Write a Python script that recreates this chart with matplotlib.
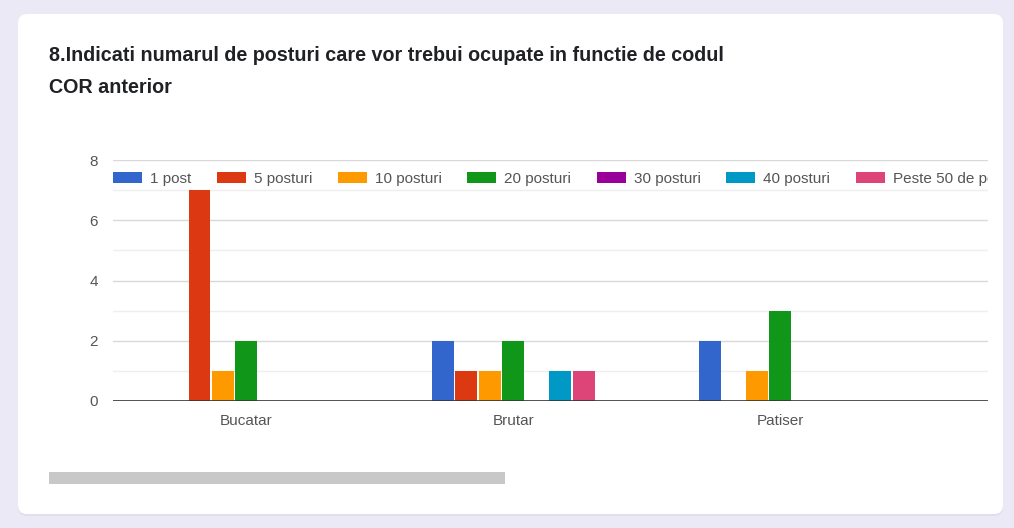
import matplotlib.pyplot as plt
import numpy as np
from matplotlib.patches import FancyBboxPatch, Rectangle, Patch
from matplotlib.transforms import IdentityTransform

# date
categories = ['Bucatar', 'Brutar', 'Patiser']
series_names = ['1 post', '5 posturi', '10 posturi', '20 posturi',
                '30 posturi', '40 posturi', 'Peste 50 de posturi']
post_1 = [0, 2, 2]
posturi_5 = [7, 1, 0]
posturi_10 = [1, 1, 1]
posturi_20 = [2, 2, 3]
posturi_30 = [0, 0, 0]
posturi_40 = [0, 1, 0]
peste_50 = [0, 1, 0]
series_values = [post_1, posturi_5, posturi_10, posturi_20, posturi_30, posturi_40, peste_50]

colors = ['#3366cc', '#dc3912', '#ff9900', '#109618', '#990099', '#0099c6', '#dd4477']

W, H = 1014, 528
plt.rcParams['font.family'] = ['Liberation Sans', 'DejaVu Sans']

fig = plt.figure(figsize=(W / 100, H / 100), dpi=100)
fig.patch.set_facecolor('#ece9f6')

# card (pixel coords)
px = IdentityTransform()
fig.add_artist(FancyBboxPatch((18, H - 516), 985, 502, boxstyle='round,pad=0,rounding_size=9',
                              transform=px, facecolor='#e2deef', edgecolor='none', zorder=-2))
fig.add_artist(FancyBboxPatch((18, H - 514), 985, 500, boxstyle='round,pad=0,rounding_size=9',
                              transform=px, facecolor='white', edgecolor='none', zorder=-1))

# titlu
title1 = '8.Indicati numarul de posturi care vor trebui ocupate in functie de codul'
title2 = 'COR anterior'
fig.text(49 / W, 1 - 61 / H, title1, fontsize=14.2, fontweight='bold', color='#202124', va='baseline')
fig.text(49 / W, 1 - 93 / H, title2, fontsize=14.2, fontweight='bold', color='#202124', va='baseline')

# grafic
ax = fig.add_axes([113 / W, (H - 401) / H, 875 / W, 241 / H])
ax.set_facecolor('none')
for s in ax.spines.values():
    s.set_visible(False)

for y in [1, 3, 5, 7]:
    ax.axhline(y, color='#eeeeee', lw=1, zorder=0)
for y in [2, 4, 6, 8]:
    ax.axhline(y, color='#d9d9d9', lw=1, zorder=0)

x = np.arange(len(categories))
slot = 0.088
bw = 0.082
for i, (vals, c) in enumerate(zip(series_values, colors)):
    ax.bar(x + (i - 3) * slot, vals, width=bw, color=c, zorder=2)

ax.axhline(0, color='#333333', lw=1.2, zorder=3)

ax.set_xlim(-0.5, 2.779)
ax.set_ylim(0, 8)
ax.set_yticks([0, 2, 4, 6, 8])
ax.set_xticks(x, categories)
ax.tick_params(axis='y', length=0, pad=11, labelsize=11, labelcolor='#555555')
ax.tick_params(axis='x', length=0, pad=9.5, labelsize=11, labelcolor='#555555')

handles = [Patch(facecolor=c, edgecolor='none') for c in colors]
leg = ax.legend(handles, series_names, loc='upper left', bbox_to_anchor=(0, 1 - 12 / 241),
                ncol=7, frameon=False, fontsize=11, borderpad=0, borderaxespad=0,
                handlelength=1.9, handleheight=0.78, handletextpad=0.5, columnspacing=1.7)
for t in leg.get_texts():
    t.set_color('#555555')
    t.set_clip_box(ax.bbox)
    t.set_clip_on(True)

# bara de derulare
fig.add_artist(Rectangle((49, H - 484), 456, 12, transform=px, facecolor='#c8c8c8', edgecolor='none'))

fig.savefig('out.png', dpi=100, facecolor=fig.get_facecolor())
